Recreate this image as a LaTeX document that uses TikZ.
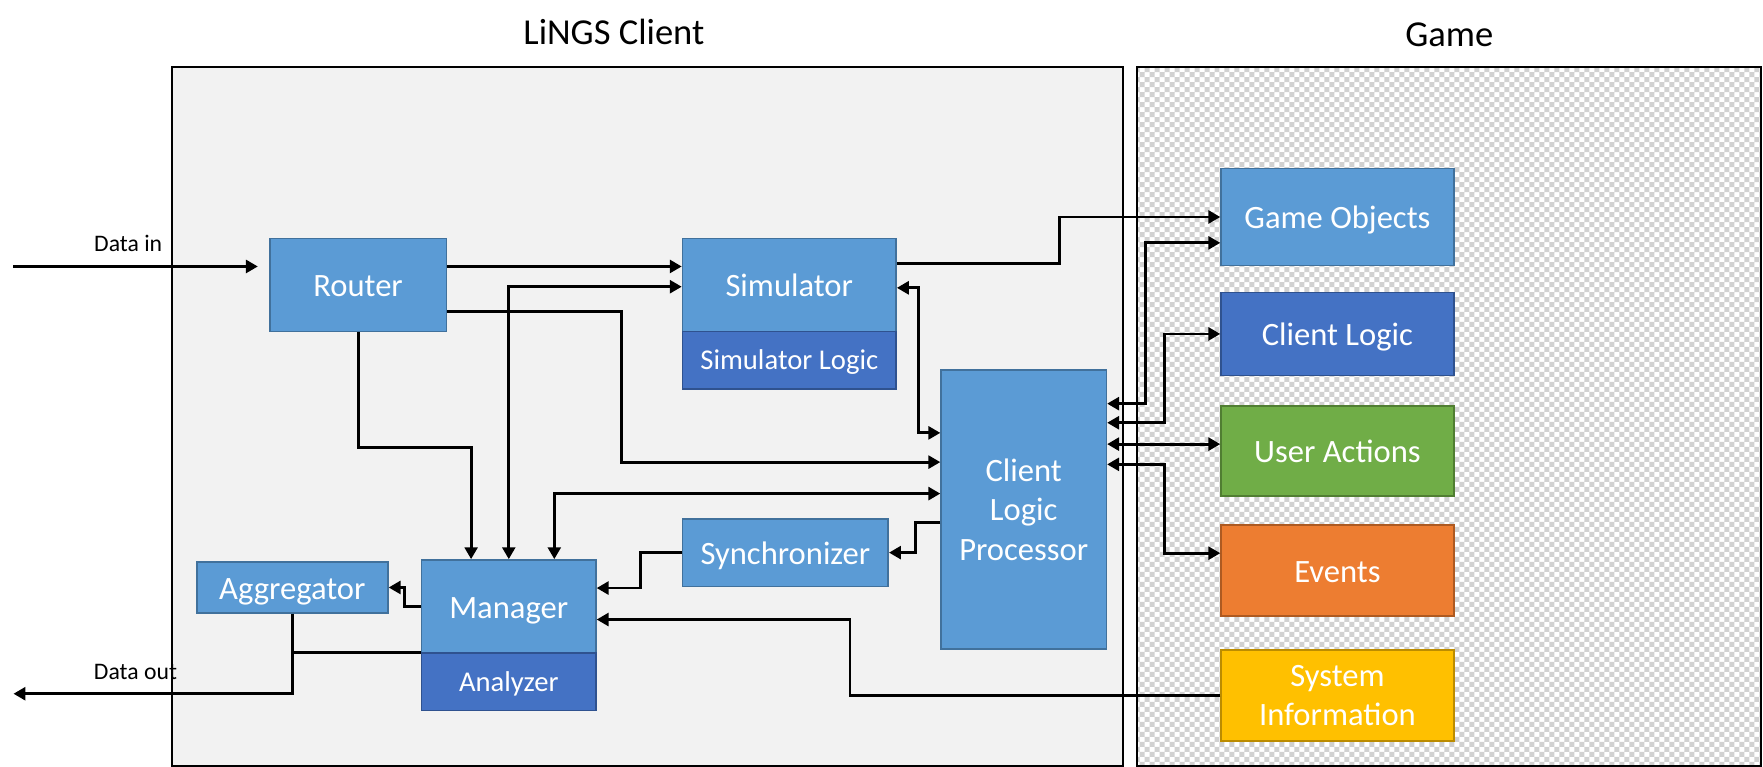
\documentclass[tikz,border=0pt]{standalone}
\usepackage{fontspec}
\setmainfont{Carlito}
\usetikzlibrary{arrows.meta,patterns,backgrounds}
\definecolor{lblue}{HTML}{5B9BD5}
\definecolor{lbluedk}{HTML}{41719C}
\definecolor{dblue}{HTML}{4472C4}
\definecolor{dbluedk}{HTML}{2F528F}
\definecolor{ugreen}{HTML}{70AD47}
\definecolor{ugreendk}{HTML}{507E32}
\definecolor{uorange}{HTML}{ED7D31}
\definecolor{uorangedk}{HTML}{AE5A21}
\definecolor{ugold}{HTML}{FFC000}
\definecolor{ugolddk}{HTML}{BC8C00}
\definecolor{framebg}{HTML}{F2F2F2}
\pgfdeclarepatternformonly{checkerfive}{\pgfqpoint{-1pt}{-1pt}}{\pgfqpoint{6pt}{6pt}}{\pgfqpoint{5.06pt}{5.06pt}}{%
  \pgfpathrectangle{\pgfpointorigin}{\pgfqpoint{2.53pt}{2.53pt}}%
  \pgfpathrectangle{\pgfqpoint{2.53pt}{2.53pt}}{\pgfqpoint{2.53pt}{2.53pt}}%
  \pgfusepath{fill}}
\begin{document}
\begin{tikzpicture}[x=0.02cm,y=-0.02cm,
  box/.style={draw, line width=0.8pt, text=white, inner sep=0pt, align=center,
    font=\fontsize{16.5}{20}\selectfont},
  one/.style={text height=12.5pt, text depth=0.7pt},
  lb/.style={box, fill=lblue, draw=lbluedk},
  db/.style={box, fill=dblue, draw=dbluedk},
  gb/.style={box, fill=ugreen, draw=ugreendk},
  ob/.style={box, fill=uorange, draw=uorangedk},
  yb/.style={box, fill=ugold, draw=ugolddk},
  sublabel/.style={font=\fontsize{14.5}{17.5}\selectfont, text height=10.5pt, text depth=0.8pt},
  title/.style={anchor=base, font=\fontsize{18.5}{22}\selectfont},
  datalabel/.style={anchor=base, font=\fontsize{12}{14}\selectfont},
  conn/.style={line width=1.45pt},
  arr/.style={conn, -{Triangle[length=6pt,width=6.5pt]}},
  darr/.style={conn, {Triangle[length=6pt,width=6.5pt]}-{Triangle[length=6pt,width=6.5pt]}},
  frame/.style={draw=black, line width=1pt}
]
\useasboundingbox (0,0) rectangle (1568,682);

% titles
\node[title] (tclient) at (546,40) {LiNGS Client};
\node[title] (tgame) at (1289,41) {Game};

% client side boxes
\node[lb, one, minimum width=3.14cm, minimum height=1.66cm] (router) at (318.5,253.5) {Router};
\node[lb, one, minimum width=3.8cm, minimum height=1.66cm] (sim) at (702,253.5) {Simulator};
\node[db, sublabel, minimum width=3.8cm, minimum height=1.02cm] (simlogic) at (702,320.5) {Simulator Logic};
\node[lb, minimum width=2.94cm, minimum height=4.96cm] (clp) at (910.5,453) {Client\\Logic\\Processor};
\node[lb, one, minimum width=3.66cm, minimum height=1.2cm] (sync) at (698.5,491.5) {Synchronizer};
\node[lb, one, minimum width=3.1cm, minimum height=1.66cm] (manager) at (452.5,539.5) {Manager};
\node[db, sublabel, minimum width=3.1cm, minimum height=1.02cm] (analyzer) at (452.5,606.5) {Analyzer};
\node[lb, one, minimum width=3.4cm, minimum height=0.9cm] (agg) at (260,522.5) {Aggregator};

% game side boxes
\node[lb, one, minimum width=4.14cm, minimum height=1.72cm] (go) at (1189.5,193) {Game Objects};
\node[db, one, minimum width=4.14cm, minimum height=1.48cm] (cl) at (1189.5,297) {Client Logic};
\node[gb, one, minimum width=4.14cm, minimum height=1.6cm] (ua) at (1189.5,401) {User Actions};
\node[ob, one, minimum width=4.14cm, minimum height=1.62cm] (ev) at (1189.5,507.5) {Events};
\node[yb, minimum width=4.14cm, minimum height=1.62cm] (sysinfo) at (1189.5,618.5) {System\\Information};

% frames
\begin{scope}[on background layer]
  \fill[framebg] (153,59.5) rectangle (999,681);
  \draw[frame] (153,59.5) rectangle (999,681);
  \fill[white] (1011,59.5) rectangle (1566,681);
  \fill[pattern=checkerfive, pattern color=black!18] (1011,59.5) rectangle (1566,681);
  \draw[frame] (1011,59.5) rectangle (1566,681);
\end{scope}

% free ends
\coordinate (din) at (12,237);
\coordinate (dout) at (12,617);
\node[datalabel] (ldin) at (114,224) {Data in};
\node[datalabel] (ldout) at (120.5,604) {Data out};

% connectors
\draw[arr, shorten >=0.2cm] (din) -- (router.west |- din);
\draw[arr] (router.east |- 0,237) -- (sim.west |- 0,237);
\draw[darr] (sim.west |- 0,255) -| (manager.north);
\draw[arr] (router.east |- 0,277) -| (553,411) -- (clp.west |- 0,411);
\draw[arr] (router.south) |- (419,398) -- (manager.north -| 419,0);
\draw[darr] (clp.west |- 0,439) -| (manager.north -| 493,0);
\draw[arr] (clp.west |- 0,465) -- (814,465) |- (sync.east);
\draw[arr] (sync.west) -- (570,491.5) |- (manager.east |- 0,523);
\draw[arr] (sysinfo.west) -| (756,551) -- (manager.east |- 0,551);
\draw[arr] (manager.west) -- (360,539.5) |- (agg.east);
\draw[arr] (agg.south) |- (dout);
\draw[conn] (manager.west |- 0,580) -- (agg.south |- 0,580);
\draw[arr] (sim.east |- 0,234) -- (942,234) |- (go.west);
\draw[darr] (sim.east |- 0,256) -- (817,256) |- (clp.west |- 0,385);
\draw[darr] (clp.east |- 0,359) -- (1019,359) |- (go.west |- 0,216);
\draw[darr] (clp.east |- 0,376) -- (1036,376) |- (cl.west);
\draw[darr] (clp.east |- 0,395) -- (ua.west |- 0,395);
\draw[darr] (clp.east |- 0,413) -- (1036,413) |- (ev.west |- 0,492);
\end{tikzpicture}
\end{document}
